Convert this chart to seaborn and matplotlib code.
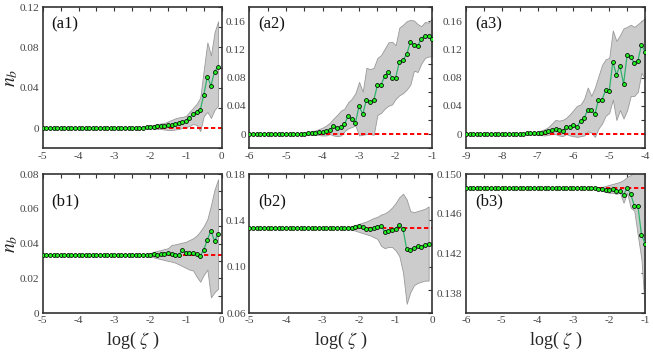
import numpy as np
import matplotlib
matplotlib.use("Agg")
import matplotlib.pyplot as plt
from matplotlib.ticker import MultipleLocator, FixedLocator
import seaborn as sns

# ---- data ----
x_a1 = np.round(np.linspace(-5.0, -0.1, 50), 1)
m_a1 = [0.0] * 28 + [0.0005, 0.0007, 0.001, 0.0012, 0.0018, 0.0017, 0.002, 0.0025, 0.003, 0.004,
                     0.005, 0.0058, 0.0065, 0.0103, 0.0137, 0.016, 0.0177, 0.033, 0.051, 0.042, 0.056, 0.061]
hi_a1 = [0.0] * 25 + [0.0005, 0.0008, 0.001, 0.0015, 0.002, 0.0025, 0.003, 0.004, 0.0045, 0.005,
                      0.0065, 0.008, 0.0095, 0.0105, 0.011, 0.012, 0.016, 0.020, 0.024, 0.030,
                      0.058, 0.085, 0.072, 0.095, 0.106]
lo_a1 = [0.0] * 25 + [0, 0, 0, 0, 0, 0, -0.0005, -0.001, -0.001, -0.0015,
                      -0.002, -0.002, -0.0015, -0.001, 0.0, 0.001,
                      0.002, 0.004, 0.003, -0.003, 0.012, 0.016, 0.010, 0.018, 0.022]

x_a2 = np.round(np.linspace(-6.0, -1.0, 51), 1)
m_a2 = [0.0] * 15 + [0.0005, 0.001, 0.0015, 0.002, 0.0025, 0.003, 0.004,
                     0.0057, 0.0114, 0.008, 0.0095, 0.014, 0.0256, 0.021, 0.016, 0.040, 0.028,
                     0.049, 0.0456, 0.048, 0.069, 0.070, 0.082, 0.088, 0.080, 0.080, 0.1026,
                     0.105, 0.113, 0.130, 0.127, 0.125, 0.135, 0.1396, 0.1396, 0.135]
hi_a2 = [0.0] * 13 + [0.0005, 0.001, 0.002, 0.003, 0.004, 0.005, 0.007, 0.009, 0.012,
                      0.016, 0.022, 0.027, 0.033, 0.036, 0.045, 0.050, 0.058, 0.074, 0.060,
                      0.094, 0.092, 0.094, 0.108, 0.112, 0.121, 0.130, 0.131, 0.126, 0.151,
                      0.155, 0.160, 0.162, 0.161, 0.156, 0.153, 0.159, 0.158, 0.165]
lo_a2 = [0.0] * 13 + [0, 0, -0.0005, -0.001, -0.001, -0.001, -0.0015, -0.002, -0.002,
                      0.0, -0.002, -0.003, -0.002, 0.004, 0.008, 0.010, 0.012, -0.002, -0.001,
                      0.0, 0.0, -0.001, 0.027, 0.030, 0.036, 0.040, 0.042, 0.050, 0.055,
                      0.058, 0.063, 0.070, 0.090, 0.088, 0.100, 0.108, 0.110, 0.110]

x_a3 = np.round(np.linspace(-9.0, -4.0, 51), 1)
m_a3 = [0.0] * 15 + [0.0003, 0.0005, 0.0008, 0.001, 0.0012, 0.0015, 0.002, 0.0025, 0.004,
                     0.0057, 0.0072, 0.0057, 0.0048, 0.0096, 0.010, 0.0134, 0.010, 0.0187, 0.0225,
                     0.0345, 0.0335, 0.0278, 0.0489, 0.0489, 0.0623, 0.0604, 0.1025, 0.0843, 0.0968,
                     0.0709, 0.112, 0.109, 0.1006, 0.104, 0.1265, 0.1169]
hi_a3 = [0.0] * 15 + [0.0008, 0.001, 0.0015, 0.002, 0.0025, 0.003, 0.005, 0.007, 0.010,
                      0.015, 0.020, 0.019, 0.020, 0.023, 0.028, 0.034, 0.040, 0.042, 0.050,
                      0.066, 0.054, 0.066, 0.082, 0.098, 0.106, 0.108, 0.147, 0.132, 0.140,
                      0.150, 0.152, 0.155, 0.152, 0.156, 0.160, 0.165]
lo_a3 = [0.0] * 15 + [0, 0, -0.0005, -0.0005, -0.001, -0.001, -0.0015, -0.002, -0.001,
                      0.0, 0.0, -0.002, -0.003, 0.0, -0.002, -0.003, -0.004, -0.003, -0.002,
                      0.004, 0.002, -0.004, 0.008, 0.015, 0.026, 0.030, 0.049, 0.020, 0.034,
                      0.022, 0.034, 0.054, 0.054, 0.060, 0.087, 0.078]

x_b1 = np.round(np.linspace(-5.0, -0.1, 50), 1)
m_b1 = [0.0336] * 31 + [0.0342, 0.0335, 0.0337, 0.0338, 0.0345, 0.034, 0.0334, 0.0334, 0.0362,
                        0.0345, 0.0345, 0.0345, 0.034, 0.0329, 0.0365, 0.0423, 0.0473, 0.0415, 0.0455]
hi_b1 = [0.0336] * 30 + [0.0345, 0.0352, 0.0358, 0.0362, 0.0368, 0.0373, 0.0392, 0.0395, 0.040,
                         0.0405, 0.041, 0.042, 0.043, 0.0445, 0.047, 0.050, 0.054, 0.062, 0.071, 0.077]
lo_b1 = [0.0336] * 30 + [0.0328, 0.032, 0.0315, 0.031, 0.0305, 0.030, 0.0296, 0.029, 0.028,
                         0.027, 0.026, 0.025, 0.0245, 0.021, 0.018, 0.022, 0.025, 0.009, 0.012, 0.014]

x_b2 = np.round(np.linspace(-5.0, -0.1, 50), 1)
m_b2 = [0.1335] * 28 + [0.1338, 0.1345, 0.1348, 0.134, 0.1325, 0.1329, 0.1335, 0.1346, 0.1354,
                        0.130, 0.1311, 0.1317, 0.1329, 0.1363, 0.1326, 0.1151, 0.1146, 0.1157,
                        0.1177, 0.1174, 0.1183, 0.120]
hi_b2 = [0.1335] * 26 + [0.134, 0.1345, 0.135, 0.136, 0.137, 0.138, 0.139, 0.1405, 0.142, 0.143,
                         0.145, 0.146, 0.148, 0.151, 0.155, 0.160, 0.163, 0.158, 0.148, 0.147,
                         0.148, 0.149, 0.150, 0.152]
lo_b2 = [0.1335] * 26 + [0.133, 0.1325, 0.132, 0.131, 0.130, 0.129, 0.128, 0.127, 0.1255, 0.124,
                         0.118, 0.116, 0.117, 0.117, 0.114, 0.109, 0.095, 0.068, 0.078, 0.084,
                         0.086, 0.087, 0.088, 0.088]

x_b3 = np.round(np.linspace(-6.0, -1.0, 51), 1)
m_b3 = [0.14855] * 37 + [0.1485, 0.1485, 0.1484, 0.1484, 0.1485, 0.1483, 0.1483, 0.1479, 0.1486,
                         0.1480, 0.1468, 0.1468, 0.1439, 0.1430]
hi_b3 = [0.14855] * 36 + [0.1486, 0.1487, 0.1487, 0.1488, 0.1489, 0.149, 0.1491, 0.1492, 0.1494,
                          0.1497, 0.1499, 0.1502, 0.1505, 0.1508, 0.151]
lo_b3 = [0.14855] * 36 + [0.1485, 0.1484, 0.1483, 0.1482, 0.1481, 0.1481, 0.1480, 0.1481, 0.1471,
                          0.1481, 0.1466, 0.1463, 0.1438, 0.1414, 0.1362]

base_vals = [0.0, 0.0, 0.0, 0.0336, 0.1335, 0.14855]
tags = ['(a1)', '(a2)', '(a3)', '(b1)', '(b2)', '(b3)']
xlims = [(-5, 0), (-6, -1), (-9, -4), (-5, 0), (-5, 0), (-6, -1)]
ylims = [(-0.02, 0.12), (-0.02, 0.18), (-0.02, 0.18), (0, 0.08), (0.06, 0.18), (0.136, 0.150)]
yticks = [[0, 0.04, 0.08, 0.12], [0, 0.04, 0.08, 0.12, 0.16], [0, 0.04, 0.08, 0.12, 0.16],
          [0, 0.02, 0.04, 0.06, 0.08], [0.06, 0.10, 0.14, 0.18], [0.138, 0.142, 0.146, 0.150]]
ytick_labels = [['0', '0.04', '0.08', '0.12'], ['0', '0.04', '0.08', '0.12', '0.16'],
                ['0', '0.04', '0.08', '0.12', '0.16'], ['0', '0.02', '0.04', '0.06', '0.08'],
                ['0.06', '0.10', '0.14', '0.18'], ['0.138', '0.142', '0.146', '0.150']]
yminor = [0.02, 0.02, 0.02, 0.01, 0.02, 0.002]

sns.set_style("white")
plt.rcParams['font.family'] = ['Liberation Serif', 'DejaVu Serif']
plt.rcParams['mathtext.fontset'] = 'stix'
plt.rcParams['axes.unicode_minus'] = False

fig = plt.figure(figsize=(6.53, 3.57), dpi=100)
rects = [[0.0655, 0.585, 0.274, 0.395], [0.3818, 0.585, 0.2802, 0.395], [0.7136, 0.585, 0.2742, 0.395],
         [0.0655, 0.1232, 0.274, 0.3894], [0.3818, 0.1232, 0.2802, 0.3894], [0.7136, 0.1232, 0.2742, 0.3894]]

series = [(x_a1, m_a1, lo_a1, hi_a1), (x_a2, m_a2, lo_a2, hi_a2), (x_a3, m_a3, lo_a3, hi_a3),
          (x_b1, m_b1, lo_b1, hi_b1), (x_b2, m_b2, lo_b2, hi_b2), (x_b3, m_b3, lo_b3, hi_b3)]

for i, (x, m, lo, hi) in enumerate(series):
    ax = fig.add_axes(rects[i])
    ax.fill_between(x, lo, hi, facecolor='#cccccc', edgecolor='#999999', linewidth=0.6, zorder=1)
    ax.plot(xlims[i], [base_vals[i]] * 2, color='red', lw=1.4, ls=(0, (2.2, 1.4)), zorder=2)
    sns.lineplot(x=x, y=m, ax=ax, color='#2fb36b', lw=0.9, estimator=None, sort=False, zorder=3)
    sns.scatterplot(x=x, y=m, ax=ax, color='#22ee22', edgecolor='black', linewidth=0.55, s=8, zorder=4)

    ax.set_xlim(xlims[i])
    ax.set_ylim(ylims[i])
    ax.xaxis.set_major_locator(MultipleLocator(1))
    ax.xaxis.set_minor_locator(MultipleLocator(0.5))
    ax.yaxis.set_major_locator(FixedLocator(yticks[i]))
    ax.set_yticklabels(ytick_labels[i])
    ax.yaxis.set_minor_locator(MultipleLocator(yminor[i]))
    ax.tick_params(which='both', direction='in', top=True, right=True, colors='#333333',
                   labelcolor='#444444', labelsize=8.2, width=0.8, pad=2.5)
    ax.tick_params(which='major', length=3)
    ax.tick_params(which='minor', length=3)
    for sp in ax.spines.values():
        sp.set_color('#333333')
        sp.set_linewidth(1.2)

    ty = 0.88 if i < 3 else 0.80
    ax.text(0.05, ty, tags[i], transform=ax.transAxes, fontsize=12, va='center', ha='left', color='#111111')

    if i % 3 == 0:
        ax.set_ylabel(r'$n_b$', fontsize=14)
        ax.yaxis.set_label_coords(-0.125, 0.5)
    else:
        ax.set_ylabel('')
    if i >= 3:
        ax.set_xlabel(r'log( $\zeta$ )', fontsize=13)
        ax.xaxis.set_label_coords(0.5, -0.12)
    else:
        ax.set_xlabel('')

fig.savefig('out.png', dpi=100)
